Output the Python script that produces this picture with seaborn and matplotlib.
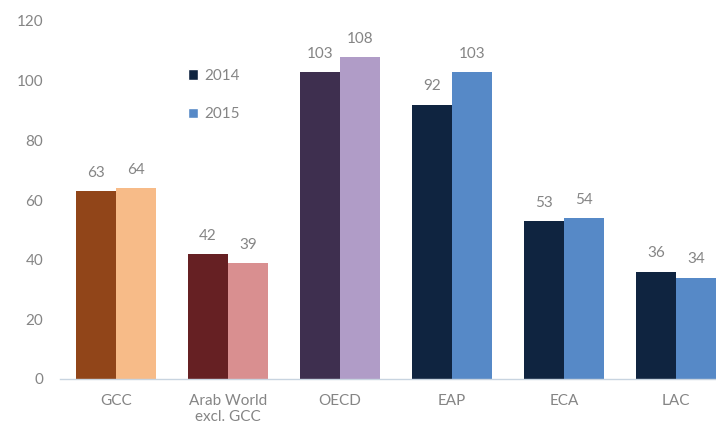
import matplotlib
matplotlib.use("Agg")
import matplotlib.pyplot as plt
import seaborn as sns
import pandas as pd
from matplotlib.patches import Patch

categories = ["GCC", "Arab World\nexcl. GCC", "OECD", "EAP", "ECA", "LAC"]
values_2014 = [63, 42, 103, 92, 53, 36]
values_2015 = [64, 39, 108, 103, 54, 34]
years = ["2014", "2015"]
yticks = [0, 20, 40, 60, 80, 100, 120]

colors_2014 = ["#914519", "#662023", "#3e2f4f", "#0f2440", "#0f2440", "#0f2440"]
colors_2015 = ["#f7bb88", "#d98f90", "#b09cc7", "#5689c7", "#5689c7", "#5689c7"]

df = pd.DataFrame({
    "cat": categories * 2,
    "year": [years[0]] * len(categories) + [years[1]] * len(categories),
    "val": values_2014 + values_2015,
})

sns.set_theme(style="white")
plt.rcParams["font.family"] = ["Lato", "DejaVu Sans"]

TXT = "#858585"

fig = plt.figure(figsize=(7.16, 4.32), dpi=100)
ax = fig.add_axes([60 / 716, (432 - 379) / 432, 672 / 716, (379 - 21) / 432])

sns.barplot(data=df, x="cat", y="val", hue="year", order=categories,
            hue_order=years, width=0.72, ax=ax, legend=False, errorbar=None,
            linewidth=0)

for cont, cols in zip(ax.containers, [colors_2014, colors_2015]):
    for bar, c in zip(cont, cols):
        bar.set_facecolor(c)
        bar.set_edgecolor("none")
    ax.bar_label(cont, padding=8, color=TXT, fontsize=11)

ax.set_xlim(-0.5, 5.5)
ax.set_ylim(0, 120)
ax.set_yticks(yticks)
ax.set_xlabel("")
ax.set_ylabel("")
for s in ["top", "right", "left"]:
    ax.spines[s].set_visible(False)
ax.spines["bottom"].set_color("#c8d4e0")
ax.spines["bottom"].set_linewidth(1)
ax.tick_params(axis="both", length=0, colors=TXT, labelsize=11)
ax.tick_params(axis="y", pad=12)
ax.tick_params(axis="x", pad=11)

handles = [Patch(facecolor="#0f2440", label="2014"),
           Patch(facecolor="#5689c7", label="2015")]
leg = fig.legend(handles=handles, loc="upper left",
                 bbox_to_anchor=(174 / 716, 1 - 55 / 432), frameon=False,
                 handlelength=0.7, handleheight=0.7, handletextpad=0.4,
                 labelspacing=1.6, fontsize=11)
for t in leg.get_texts():
    t.set_color(TXT)

fig.savefig("out.png", dpi=100)
